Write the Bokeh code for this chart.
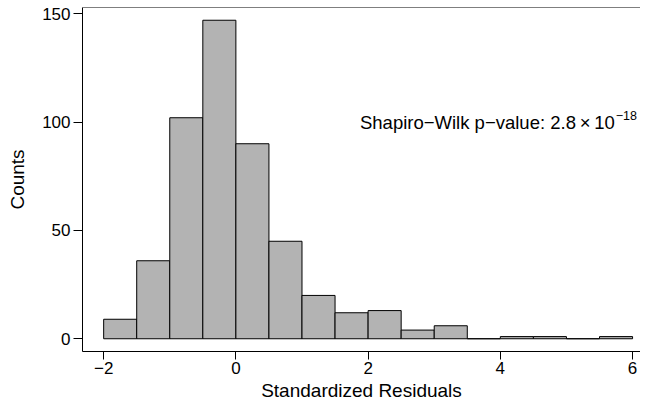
from bokeh.plotting import figure
from bokeh.models import FixedTicker, Span, Label
from bokeh.embed import file_html
from bokeh.resources import INLINE

# ---- data ----
BIN_EDGES = [-2.0, -1.5, -1.0, -0.5, 0.0, 0.5, 1.0, 1.5, 2.0, 2.5, 3.0, 3.5, 4.0, 4.5, 5.0, 5.5, 6.0]
COUNTS = [9, 36, 102, 147, 90, 45, 20, 12, 13, 4, 6, 0, 1, 1, 0, 1]
X_TICKS = [-2, 0, 2, 4, 6]
X_TICK_LABELS = ["\u22122", "0", "2", "4", "6"]
Y_TICKS = [0, 50, 100, 150]
Y_TICK_LABELS = ["0", "50", "100", "150"]
X_LABEL = "Standardized Residuals"
Y_LABEL = "Counts"
ANNOTATION_MAIN = "Shapiro\u2212Wilk p\u2212value: 2.8\u2009\u00d7\u200910"
ANNOTATION_SUP = "\u221218"
ANN_X, ANN_Y = 5.73, 100

FONT = "Liberation Sans"
X_RANGE = (-2.32, 6.12)
Y_RANGE = (-5.88, 152.88)

p = figure(width=640, height=403, output_backend="svg", toolbar_location=None,
           x_range=X_RANGE, y_range=Y_RANGE,
           min_border_left=82, min_border_right=0, min_border_top=7, min_border_bottom=51,
           x_axis_label=X_LABEL, y_axis_label=Y_LABEL)
p.outline_line_color = None
p.background_fill_color = "white"
p.border_fill_color = "white"
p.xgrid.visible = False
p.ygrid.visible = False

p.quad(left=BIN_EDGES[:-1], right=BIN_EDGES[1:], bottom=0, top=COUNTS,
       fill_color="#b3b3b3", line_color="black", line_width=1)

for ax, ticks, labels in ((p.xaxis[0], X_TICKS, X_TICK_LABELS), (p.yaxis[0], Y_TICKS, Y_TICK_LABELS)):
    ax.ticker = FixedTicker(ticks=ticks)
    ax.major_label_overrides = {t: l for t, l in zip(ticks, labels)}
    ax.minor_tick_line_color = None
    ax.major_tick_in = 0
    ax.axis_line_color = "black"
    ax.major_tick_line_color = "black"
    ax.major_label_text_font = FONT
    ax.major_label_text_font_size = "17px"
    ax.major_label_text_color = "black"
    ax.axis_label_text_font = FONT
    ax.axis_label_text_font_size = "19px"
    ax.axis_label_text_font_style = "normal"
    ax.axis_label_text_color = "black"

p.xaxis.major_tick_out = 8
p.yaxis.major_tick_out = 9
p.xaxis.major_label_standoff = 2
p.xaxis.axis_label_standoff = 3
p.yaxis.major_label_standoff = 3
p.yaxis.axis_label_standoff = 11
p.yaxis.major_label_orientation = "horizontal"

top_line = Span(location=Y_RANGE[1], dimension="width", line_color="black", line_width=1)
p.add_layout(top_line)

p.add_layout(Label(x=ANN_X, y=ANN_Y, text=ANNOTATION_MAIN, text_align="right",
                   text_baseline="middle", text_font=FONT, text_font_size="18.5px",
                   text_color="black"))
p.add_layout(Label(x=ANN_X, y=ANN_Y, x_offset=1, y_offset=7, text=ANNOTATION_SUP,
                   text_align="left", text_baseline="middle", text_font=FONT,
                   text_font_size="12.5px", text_color="black"))

open("out.html", "w").write(file_html(p, INLINE))
